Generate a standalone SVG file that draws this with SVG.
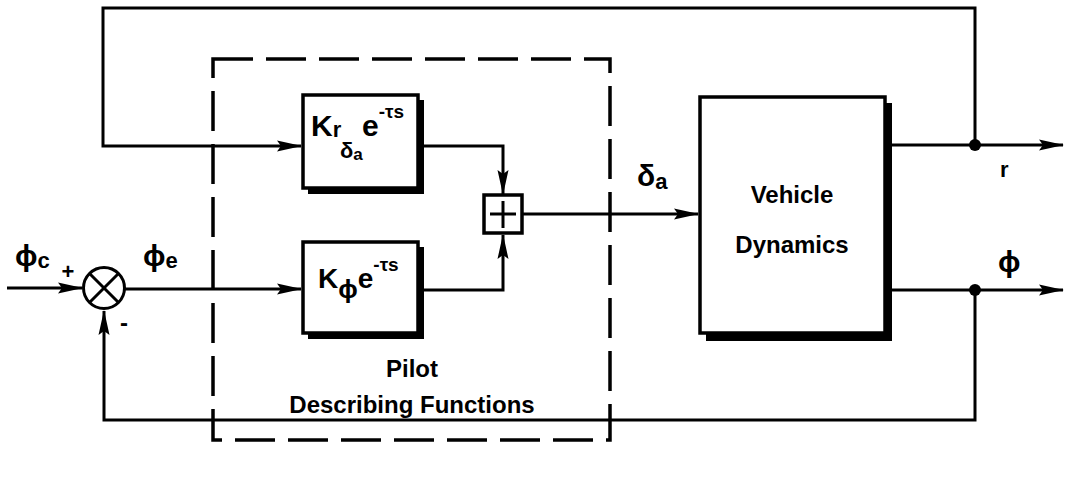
<svg xmlns="http://www.w3.org/2000/svg" width="1069" height="481" viewBox="0 0 1069 481">
<style>
.ln{fill:none;stroke:#000;stroke-width:3;stroke-linejoin:miter}
.bx{fill:#fff;stroke:#000;stroke-width:3.5}
.sh{fill:#000}
.t{font-family:"Liberation Sans",Arial,sans-serif;font-weight:bold;fill:#000}
.dash{fill:none;stroke:#000;stroke-width:3.5;stroke-dasharray:40 13}
</style>
<defs>
<marker id="ar" markerUnits="userSpaceOnUse" markerWidth="26" markerHeight="14" viewBox="0 0 26 14" refX="24" refY="7" orient="auto">
<path d="M0,1.5 L25,7 L0,12.5 L4,7 Z" fill="#000"/>
</marker>
</defs>
<g id="pilot-boundary">
<rect class="dash" x="213" y="59" width="397" height="381"/>
<text class="t" x="412" y="377" font-size="24" text-anchor="middle">Pilot</text>
<text class="t" x="412" y="413" font-size="24" text-anchor="middle">Describing Functions</text>
</g>
<g id="connectors">
<polyline class="ln" points="975,145 975,8 103,8 103,146 301,146" marker-end="url(#ar)"/>
<polyline class="ln" points="422,146 503,146 503,194" marker-end="url(#ar)"/>
<polyline class="ln" points="422,290 503,290 503,235" marker-end="url(#ar)"/>
<line class="ln" x1="522" y1="214" x2="698" y2="214" marker-end="url(#ar)"/>
<line class="ln" x1="890" y1="145" x2="1063" y2="145" marker-end="url(#ar)"/>
<line class="ln" x1="890" y1="290" x2="1063" y2="290" marker-end="url(#ar)"/>
<polyline class="ln" points="975,290 975,420 104,420 104,311" marker-end="url(#ar)"/>
<line class="ln" x1="7" y1="288" x2="82" y2="288" marker-end="url(#ar)"/>
<line class="ln" x1="125" y1="289" x2="301" y2="289" marker-end="url(#ar)"/>
<circle cx="975" cy="145" r="6" fill="#000"/>
<circle cx="975" cy="290" r="6" fill="#000"/>
</g>
<g id="sum-junction">
<circle cx="104" cy="288" r="20.5" fill="#fff" stroke="#000" stroke-width="3"/>
<line class="ln" x1="89.5" y1="273.5" x2="118.5" y2="302.5"/>
<line class="ln" x1="118.5" y1="273.5" x2="89.5" y2="302.5"/>
<text class="t" x="68" y="279" font-size="22" text-anchor="middle">+</text>
<text class="t" x="124" y="331" font-size="24" text-anchor="middle">-</text>
<text class="t" x="15" y="266" font-size="30">ϕ<tspan font-size="22" dy="2">c</tspan></text>
<text class="t" x="143" y="266" font-size="30">ϕ<tspan font-size="22" dy="2">e</tspan></text>
</g>
<g id="block-kr">
<path class="sh" d="M416,100 H424 V194 H308 V186 H416 Z"/>
<rect class="bx" x="303" y="95" width="115" height="93"/>
<text class="t" x="311" y="136" font-size="30">K<tspan font-size="22" dy="1">r</tspan><tspan font-size="22" x="340" dy="21">δ</tspan><tspan font-size="17" dy="2">a</tspan><tspan x="362" dy="-24">e</tspan><tspan font-size="19" dy="-18">-τs</tspan></text>
</g>
<g id="block-kphi">
<path class="sh" d="M416,247 H424 V339 H308 V331 H416 Z"/>
<rect class="bx" x="303" y="242" width="115" height="91"/>
<text class="t" x="318" y="288" font-size="28">K<tspan font-size="26" dy="10">ϕ</tspan><tspan dy="-10">e</tspan><tspan font-size="19" dy="-17">-τs</tspan></text>
</g>
<g id="sum-box">
<rect class="bx" x="484" y="195" width="38" height="38" stroke-width="3"/>
<line class="ln" x1="503" y1="201" x2="503" y2="228"/>
<line class="ln" x1="490" y1="214" x2="516" y2="214"/>
</g>
<text class="t" x="637" y="186" font-size="30">δ<tspan font-size="22" dy="3">a</tspan></text>
<g id="vehicle-dynamics">
<path class="sh" d="M882,103 H892 V341 H706 V331 H882 Z"/>
<rect class="bx" x="700" y="97" width="185" height="236"/>
<text class="t" x="792" y="203" font-size="24" text-anchor="middle">Vehicle</text>
<text class="t" x="792" y="253" font-size="24" text-anchor="middle">Dynamics</text>
</g>
<text class="t" x="1000" y="177" font-size="22">r</text>
<text class="t" x="998" y="272" font-size="30">ϕ</text>
</svg>
